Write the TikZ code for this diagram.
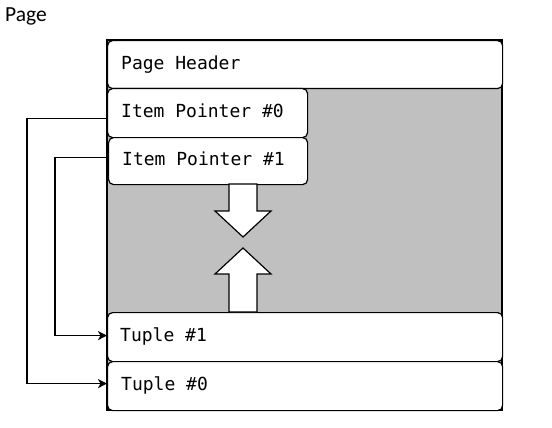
\documentclass[tikz,border=0pt]{standalone}
\usepackage{fontspec}
\setmainfont{Carlito}
\newfontfamily\monofnt{DejaVu Sans Mono}
\usetikzlibrary{arrows.meta,calc}
\begin{document}
\begin{tikzpicture}[x=1pt,y=-1pt,
  cell/.style={draw=black, line width=1.2pt, fill=white, rounded corners=5pt,
    anchor=north west, inner sep=0pt},
  lbl/.style={anchor=base west, inner sep=0pt, font=\monofnt\fontsize{18}{20}\selectfont},
  conn/.style={draw=black, line width=1.2pt, -{Stealth[length=9pt,width=9pt,inset=2.5pt]}},
  blockarrow/.style={draw=black, line width=1.2pt, fill=white, line join=miter}
]
\useasboundingbox (0,0) rectangle (552,428);
\node[anchor=base west, inner sep=0pt, font=\fontsize{21.5}{24}\selectfont] (title) at (5,22) {Page};
% page frame
\path[fill={rgb,255:red,192;green,192;blue,192}, draw=black, line width=1.4pt] (107,40) rectangle (502,410);
% cells
\node[cell, minimum width=395pt, minimum height=48pt] (hdr) at (107,40) {};
\node[cell, minimum width=200pt, minimum height=49pt] (ip0) at (107,88) {};
\node[cell, minimum width=199pt, minimum height=47pt] (ip1) at (108,137) {};
\node[cell, minimum width=395pt, minimum height=49pt] (t1) at (107,312) {};
\node[cell, minimum width=395pt, minimum height=49pt] (t0) at (107,361) {};
% labels
\node[lbl] (hdrtxt) at ($(hdr.west)+(14,4.5)$) {Page Header};
\node[lbl] (ip0txt) at ($(ip0.west)+(14,4.5)$) {Item Pointer \#0};
\node[lbl] (ip1txt) at ($(ip1.west)+(14,4.5)$) {Item Pointer \#1};
\node[lbl] (t1txt) at ($(t1.west)+(13,4)$) {Tuple \#1};
\node[lbl] (t0txt) at ($(t0.west)+(14,4)$) {Tuple \#0};
% block arrows
\draw[blockarrow] (229,184) -- (257,184) -- (257,211) -- (271,211) -- (243,237) -- (215,211) -- (229,211) -- cycle;
\draw[blockarrow] (243,248) -- (271,274) -- (257,274) -- (257,312) -- (229,312) -- (229,274) -- (215,274) -- cycle;
% connectors
\draw[conn] ($(ip0.west)+(0,5.5)$) -- ++(-80,0) |- ($(t0.west)+(0,-2.5)$);
\draw[conn] ($(ip1.west)+(0,-3.5)$) -- ++(-53,0) |- ($(t1.west)+(0,-1.5)$);
\end{tikzpicture}
\end{document}
